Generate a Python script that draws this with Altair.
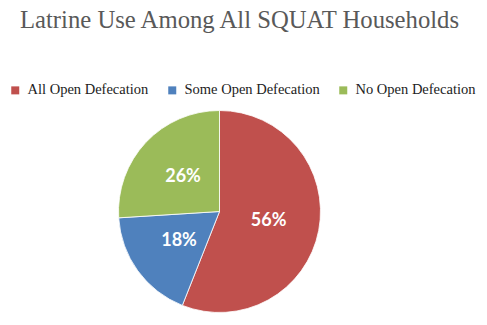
import altair as alt
import pandas as pd

categories = ["All Open Defecation", "Some Open Defecation", "No Open Defecation"]
values = [56, 18, 26]
labels = ["56%", "18%", "26%"]
colors = ["#C0504D", "#4F81BD", "#9BBB59"]

df = pd.DataFrame({"cat": categories, "val": values, "label": labels, "order": [0, 1, 2]})

cx, cy = 219.5, 171.5
serif = "'Liberation Serif', 'Times New Roman', serif"

base = alt.Chart(df).encode(
    theta=alt.Theta("val:Q", stack=True),
    order=alt.Order("order:Q"),
)

pie = base.mark_arc(outerRadius=101, stroke="white", strokeWidth=0.8).encode(
    x=alt.value(cx),
    y=alt.value(cy),
    color=alt.Color(
        "cat:N",
        scale=alt.Scale(domain=categories, range=colors),
        sort=categories,
        legend=alt.Legend(
            title=None,
            orient="none",
            legendX=8,
            legendY=43,
            direction="horizontal",
        ),
    ),
)

text = base.mark_text(
    radius=50, font="Lato", fontWeight="bold", fontSize=18, color="white"
).encode(x=alt.value(cx), y=alt.value(cy), text="label:N")

chart = (
    alt.layer(pie, text)
    .properties(
        width=487,
        height=285,
        padding={"left": 0, "top": 40, "right": 0, "bottom": 0},
        autosize=alt.AutoSizeParams(type="none"),
        title=alt.TitleParams(
            "Latrine Use Among All SQUAT Households",
            font=serif,
            fontSize=24.7,
            fontWeight="normal",
            color="#595959",
            anchor="middle",
            offset=7,
            dx=-4,
        ),
    )
    .configure_view(stroke=None)
    .configure_legend(
        padding=0,
        symbolType="square",
        symbolSize=64,
        symbolStrokeWidth=0,
        labelFont=serif,
        labelFontSize=14.5,
        labelColor="#222222",
        labelOffset=5,
        columnPadding=16,
        labelLimit=300,
    )
)

chart.save("out.html", embed_options={"renderer": "svg", "actions": False})
